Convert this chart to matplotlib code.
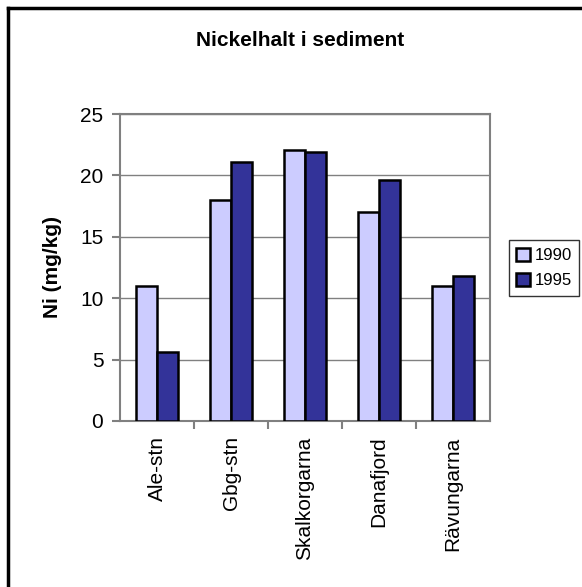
import numpy as np
import matplotlib.pyplot as plt
from matplotlib.lines import Line2D

stations = ['Ale-stn', 'Gbg-stn', 'Skalkorgarna', 'Danafjord', 'Rävungarna']
ni_1990 = [11.0, 18.0, 22.1, 17.0, 11.0]
ni_1995 = [5.6, 21.1, 21.9, 19.6, 11.8]
years = ['1990', '1995']

plt.rcParams['font.family'] = ['Liberation Sans', 'DejaVu Sans']

fig = plt.figure(figsize=(5.82, 5.87), dpi=100)
ax = fig.add_axes([120 / 582, 1 - 421 / 587, 370 / 582, 307 / 587])

x = np.arange(len(stations))
w = 0.2857
ax.bar(x - w / 2, ni_1990, w, color='#ccccff', edgecolor='black', linewidth=1.8, label=years[0], zorder=3)
ax.bar(x + w / 2, ni_1995, w, color='#333399', edgecolor='black', linewidth=1.8, label=years[1], zorder=3)

ax.set_xlim(-0.5, len(stations) - 0.5)
ax.set_ylim(0, 25)
ax.set_yticks(range(0, 26, 5))
ax.grid(axis='y', color='#808080', linewidth=1, zorder=0)

ax.set_xticks(x)
ax.set_xticklabels(stations, rotation=90, fontsize=15)
ax.tick_params(axis='x', length=0, pad=11)
ax.set_xticks(np.arange(0.5, len(stations) - 0.5, 1), minor=True)
ax.tick_params(axis='x', which='minor', length=6, color='#808080', width=1.5)
ax.tick_params(axis='y', labelsize=15, length=6, color='#808080', width=1.5, pad=6)

for s in ax.spines.values():
    s.set_color('#808080')
    s.set_linewidth(1.5)

ax.set_ylabel('Ni (mg/kg)', fontsize=15, fontweight='bold', labelpad=13)

fig.text(300 / 582, 1 - 40 / 587, 'Nickelhalt i sediment', ha='center', va='center',
         fontsize=15, fontweight='bold')

leg = fig.legend(loc='center', bbox_to_anchor=(544 / 582, 1 - 268 / 587), fontsize=12,
                 frameon=True, fancybox=False, edgecolor='black', handlelength=0.8,
                 handleheight=0.8, handletextpad=0.3, borderpad=0.45, labelspacing=0.6,
                 borderaxespad=0)
leg.get_frame().set_linewidth(1)

# outer chart border (only top and left visible)
fig.add_artist(Line2D([7.5 / 582, 7.5 / 582], [0, 1 - 7.5 / 587], color='black', linewidth=2.5,
                      transform=fig.transFigure))
fig.add_artist(Line2D([7.5 / 582, 1], [1 - 7.5 / 587, 1 - 7.5 / 587], color='black', linewidth=2.5,
                      transform=fig.transFigure))

fig.savefig('out.png', dpi=100)
